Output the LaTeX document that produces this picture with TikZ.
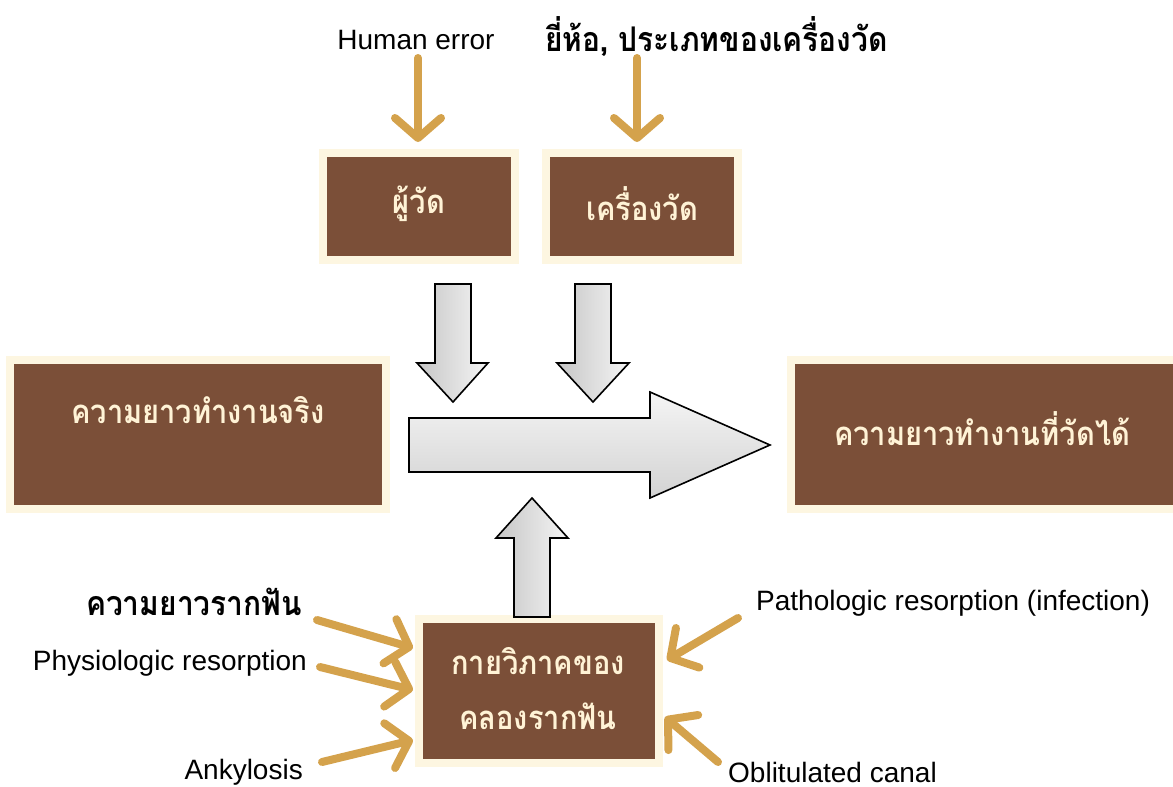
\documentclass[tikz,border=0pt]{standalone}
\usepackage{fontspec}
\setmainfont{Liberation Sans}
\newfontfamily\thai[Script=Thai, FakeStretch=0.88]{Loma}
\usetikzlibrary{arrows.meta}
\definecolor{brownbox}{HTML}{7B4F38}
\definecolor{creamline}{HTML}{FDF6E1}
\definecolor{creamtext}{HTML}{FFF3D6}
\definecolor{gold}{HTML}{D4A24C}
\tikzset{
  boxstyle/.style={draw=creamline, line width=8pt, fill=brownbox, inner sep=0pt},
  boxtext/.style={text=creamtext, font=\thai\bfseries\fontsize{33}{38}\selectfont, inner sep=0pt, align=center},
  lbl/.style={font=\fontsize{28}{32}\selectfont, inner sep=0pt},
  thailbl/.style={font=\thai\bfseries\fontsize{34}{38}\selectfont, inner sep=0pt},
  goldarrow/.style={draw=gold, line width=8pt, line cap=round, -{Straight Barb[length=20pt, width=46pt, round]}},
  grayarrow/.style={draw=black, line width=1.6pt, line join=miter},
}
\begin{document}
\begin{tikzpicture}[x=1pt, y=-1pt]
\useasboundingbox (0,0) rectangle (1173,787);
% boxes
\node[boxstyle, minimum width=192pt, minimum height=107pt] (measurer) at (419,206.5) {};
\node[boxtext] (measurertxt) at (419,204) {ผู้วัด};
\node[boxstyle, minimum width=192pt, minimum height=107pt] (instr) at (642,206.5) {};
\node[boxtext] (instrtxt) at (642,204) {เครื่องวัด};
\node[boxstyle, minimum width=376pt, minimum height=149pt] (truelen) at (198,434.5) {};
\node[boxtext] (truetxt) at (198,410) {ความยาวทำงานจริง};
\node[boxstyle, minimum width=394pt, minimum height=149pt] (measlen) at (988,434.5) {};
\node[boxtext] (meastxt) at (982,429) {ความยาวทำงานที่วัดได้};
\node[boxstyle, minimum width=240pt, minimum height=144pt] (anat) at (539,691) {};
\node[boxtext] (anattxt1) at (538,661) {กายวิภาคของ};
\node[boxtext] (anattxt2) at (538,716) {คลองรากฟัน};
% gray block arrows
\path[grayarrow, top color=gray!8, bottom color=gray!35]
  (409,418) -- (650,418) -- (650,392) -- (770,445) -- (650,498) -- (650,472) -- (409,472) -- cycle;
\path[grayarrow, left color=gray!45, right color=gray!8]
  (435,284) -- (471,284) -- (471,363) -- (488,363) -- (453,402) -- (417,363) -- (435,363) -- cycle;
\path[grayarrow, left color=gray!45, right color=gray!8]
  (575,284) -- (611,284) -- (611,363) -- (629,363) -- (593,402) -- (557,363) -- (575,363) -- cycle;
\path[grayarrow, left color=gray!45, right color=gray!8]
  (514,617) -- (514,538) -- (496,538) -- (532,498) -- (568,538) -- (550,538) -- (550,617) -- cycle;
% labels
\node[lbl] (human) at (416,40) {Human error};
\node[thailbl] (brand) at (716.5,37) {ยี่ห้อ, ประเภทของเครื่องวัด};
\node[thailbl, anchor=east] (rootlen) at (302,602) {ความยาวรากฟัน};
\node[lbl, anchor=east] (physio) at (307,663) {Physiologic resorption};
\node[lbl, anchor=east] (ankyl) at (303,772) {Ankylosis};
\node[lbl, anchor=west] (patho) at (756,603) {Pathologic resorption (infection)};
\node[lbl, anchor=west] (oblit) at (728,772) {Oblitulated canal};
% gold arrow ends
\coordinate (h1) at (418,58);   \coordinate (h2) at (418,142);
\coordinate (b1) at (637,58);   \coordinate (b2) at (637,142);
\coordinate (r1) at (317,620);  \coordinate (r2) at (413,648);
\coordinate (p1) at (320,667);  \coordinate (p2) at (413,690);
\coordinate (a1) at (322,762);  \coordinate (a2) at (413,740);
\coordinate (q1) at (738,618);  \coordinate (q2) at (667,660);
\coordinate (o1) at (718,762);  \coordinate (o2) at (665,717);
\draw[goldarrow] (h1) -- (h2);
\draw[goldarrow] (b1) -- (b2);
\draw[goldarrow] (r1) -- (r2);
\draw[goldarrow] (p1) -- (p2);
\draw[goldarrow] (a1) -- (a2);
\draw[goldarrow] (q1) -- (q2);
\draw[goldarrow] (o1) -- (o2);
\end{tikzpicture}
\end{document}
